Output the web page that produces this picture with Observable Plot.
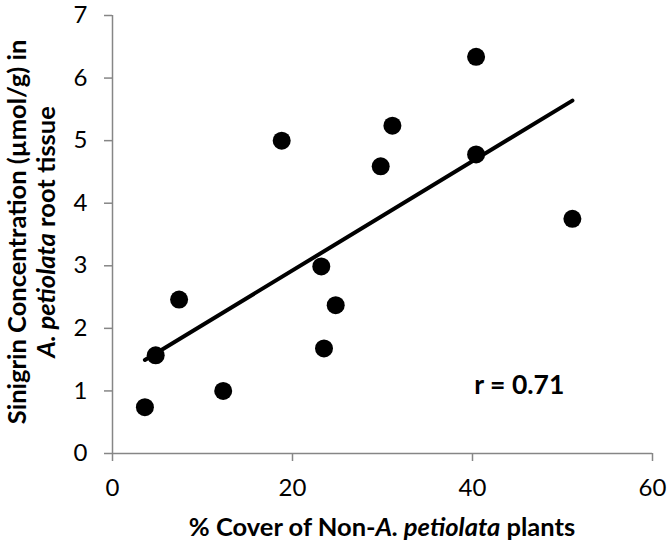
<!DOCTYPE html>
<html>
<head>
<meta charset="utf-8">
<script src="https://cdn.jsdelivr.net/npm/d3@7"></script>
<script src="https://cdn.jsdelivr.net/npm/@observablehq/plot@0.6"></script>
<style>
  html, body { margin: 0; padding: 0; background: #fff; }
  #chart svg { display: block; }
</style>
</head>
<body>
<div id="chart"></div>
<script>
// % cover of non-A. petiolata plants
const cover = [3.6, 4.8, 7.4, 12.3, 18.8, 23.2, 23.5, 24.8, 29.8, 31.1, 40.4, 40.4, 51.1];
// Sinigrin concentration (µmol/g)
const sinigrin = [0.74, 1.57, 2.46, 1.0, 5.0, 2.99, 1.68, 2.37, 4.59, 5.24, 6.34, 4.78, 3.75];
const xTicks = [0, 20, 40, 60];
const yTicks = [0, 1, 2, 3, 4, 5, 6, 7];
const rLabel = ["r = 0.71"];

const data = cover.map((c, i) => ({cover: c, sinigrin: sinigrin[i]}));

const W = 667, H = 547;
const FONT = "Lato, 'Open Sans', sans-serif";
const AXIS_GRAY = "#868686";
const TITLE_SIZE = 25.5;

const chart = Plot.plot({
  width: W,
  height: H,
  marginLeft: 112,
  marginRight: 15,
  marginTop: 15,
  marginBottom: 94,
  style: {fontFamily: FONT, fontSize: "24px", background: "#fff", color: "#000", overflow: "visible"},
  x: {domain: [0, 60]},
  y: {domain: [0, 7]},
  marks: [
    Plot.axisX({ticks: xTicks, tickFormat: d3.format("d"), tickSize: 8, tickPadding: 17, stroke: AXIS_GRAY, strokeWidth: 1.5, fill: "#000", label: null, fontSize: 24}),
    Plot.axisY({ticks: yTicks, tickFormat: d3.format("d"), tickSize: 8, tickPadding: 17, stroke: AXIS_GRAY, strokeWidth: 1.5, fill: "#000", label: null, fontSize: 24}),
    Plot.ruleY([0], {stroke: AXIS_GRAY, strokeWidth: 1.5}),
    Plot.ruleX([0], {stroke: AXIS_GRAY, strokeWidth: 1.5}),
    Plot.linearRegressionY(data, {x: "cover", y: "sinigrin", ci: 0, stroke: "#000", strokeWidth: 4}),
    Plot.dot(data, {x: "cover", y: "sinigrin", r: 9, fill: "#000", stroke: "none"}),
    Plot.text(rLabel, {x: 45.2, y: 1.08, text: d => d, fontSize: 26.5, fontWeight: "bold", fill: "#000"})
  ]
});

const svg = d3.select(chart);

// X axis title with italic part
const xt = svg.append("text")
  .attr("x", (112 + (W - 15)) / 2)
  .attr("y", 526)
  .attr("text-anchor", "middle")
  .attr("dominant-baseline", "central")
  .attr("font-family", FONT)
  .attr("font-size", TITLE_SIZE)
  .attr("font-weight", "bold")
  .attr("fill", "#000");
xt.append("tspan").text("% Cover of Non-");
xt.append("tspan").attr("font-style", "italic").text("A. petiolata");
xt.append("tspan").text(" plants");

// Y axis title, two lines, rotated (alphabetic baselines)
const yCenter = 232;
svg.append("text")
  .attr("transform", `translate(26,${yCenter}) rotate(-90)`)
  .attr("text-anchor", "middle")
  .attr("font-family", FONT)
  .attr("font-size", TITLE_SIZE)
  .attr("font-weight", "bold")
  .attr("fill", "#000")
  .text("Sinigrin Concentration (µmol/g) in");

const y2 = svg.append("text")
  .attr("transform", `translate(55,${yCenter}) rotate(-90)`)
  .attr("text-anchor", "middle")
  .attr("font-family", FONT)
  .attr("font-size", TITLE_SIZE)
  .attr("font-weight", "bold")
  .attr("fill", "#000");
y2.append("tspan").attr("font-style", "italic").text("A. petiolata");
y2.append("tspan").text(" root tissue");

document.getElementById("chart").appendChild(chart);
</script>
</body>
</html>
